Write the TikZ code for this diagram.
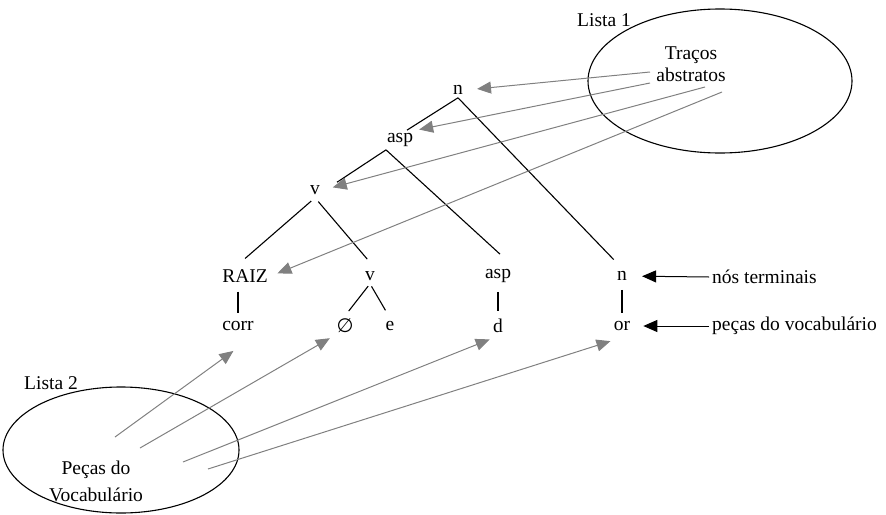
\documentclass[tikz,border=0pt]{standalone}
\usepackage{fontspec}
\setmainfont{Liberation Serif}
\newfontfamily\symfont{DejaVu Sans}
\usetikzlibrary{arrows.meta,shapes.geometric}
\definecolor{arrgray}{RGB}{128,128,128}
\tikzset{
	lbl/.style={font=\fontsize{19.5}{22}\selectfont, inner sep=3pt},
	branch/.style={line width=1.1pt},
	stem/.style={line width=1.1pt, shorten <=6pt, shorten >=5pt},
	blob/.style={ellipse, draw, line width=1.1pt, inner sep=0pt},
	feat/.style={draw=arrgray, line width=1pt, -{Triangle[length=14pt,width=12pt]}},
	point/.style={line width=1pt, -{Triangle[length=14pt,width=12pt]}}
}
\begin{document}
\begin{tikzpicture}[x=1pt, y=-1pt]
				\useasboundingbox (0,0) rectangle (886,514);
				\node[blob, minimum width=264pt, minimum height=144pt] (lista1) at (720,81) {};
				\node[blob, minimum width=236pt, minimum height=126pt] (lista2) at (121,450) {};
				\node[lbl] (lista1lbl) at (604,20) {Lista 1};
				\node[lbl] (lista2lbl) at (51,383) {Lista 2};
				\node[lbl, align=center] (traits) at (691,64) {Traços\\abstratos};
				\node[lbl, align=center, font=\fontsize{19.5}{27}\selectfont] (pieces) at (96,481) {Peças do\\Vocabulário};
				\node[lbl] (n1) at (458,90) {n};
				\node[lbl] (asp1) at (400,140) {asp};
				\node[lbl] (v1) at (315,190) {v};
				\node[lbl] (raiz) at (245,276) {RAIZ};
				\node[lbl] (v2) at (370,276) {v};
				\node[lbl] (asp2) at (498,276) {asp};
				\node[lbl] (n2) at (622,276) {n};
				\node[lbl] (corr) at (238,326) {corr};
				\node[lbl] (zero) at (345,326) {\symfont ∅};
				\node[lbl] (e) at (390,326) {e};
				\node[lbl] (d) at (498,326) {d};
				\node[lbl] (or) at (622,326) {or};
				\node[lbl, anchor=west] (termlbl) at (709,277) {nós terminais};
				\node[lbl, anchor=west] (vocablbl) at (709,326) {peças do vocabulário};
				\coordinate (T1) at (650,72);
				\coordinate (T2) at (650,83);
				\coordinate (T3) at (705,87);
				\coordinate (T4) at (722,92);
				\coordinate (P1) at (115,437);
				\coordinate (P2) at (140,448);
				\coordinate (P3) at (183,462);
				\coordinate (P4) at (208,469);
				\draw[branch] (n1.south) -- ([xshift=7pt]asp1.north);
				\draw[branch, shorten >=12pt] (n1.south) -- (n2.north);
				\draw[branch] ([xshift=-14pt]asp1.south) -- ([xshift=22pt]v1.north);
				\draw[branch] ([xshift=-14pt]asp1.south) -- ([xshift=2pt,yshift=12pt]asp2.north);
				\draw[branch, shorten <=5pt, shorten >=12pt] (v1.south) -- ([xshift=-9pt]raiz.north);
				\draw[branch, shorten <=5pt, shorten >=12pt] (v1.south) -- ([xshift=5pt]v2.north);
				\draw[branch, shorten <=3pt, shorten >=6pt] (v2.south) -- (zero.north);
				\draw[branch, shorten <=3pt, shorten >=9pt] (v2.south) -- (e.north);
				\draw[stem] (corr.north |- raiz.south) -- (corr.north);
				\draw[stem] (asp2) -- (d);
				\draw[stem] (n2) -- (or);
				\draw[feat, shorten >=11pt] (T1) -- (n1.east);
				\draw[feat, shorten >=3pt] (T2) -- (asp1.north east);
				\draw[feat, shorten >=10pt] (T3) -- (v1.east);
				\draw[feat, shorten >=7pt] (T4) -- (raiz.east);
				\draw[feat, shorten >=29pt] (P1) -- (corr.south east);
				\draw[feat, shorten >=4pt] (P2) -- (zero.south west);
				\draw[feat, shorten >=9pt] (P3) -- (d.south);
				\draw[feat, shorten >=24pt] (P4) -- (or.south east);
				\draw[point, shorten >=12pt] (termlbl.west) -- (n2);
				\draw[point, shorten >=10pt] (vocablbl.west) -- (or);
\end{tikzpicture}
\end{document}
